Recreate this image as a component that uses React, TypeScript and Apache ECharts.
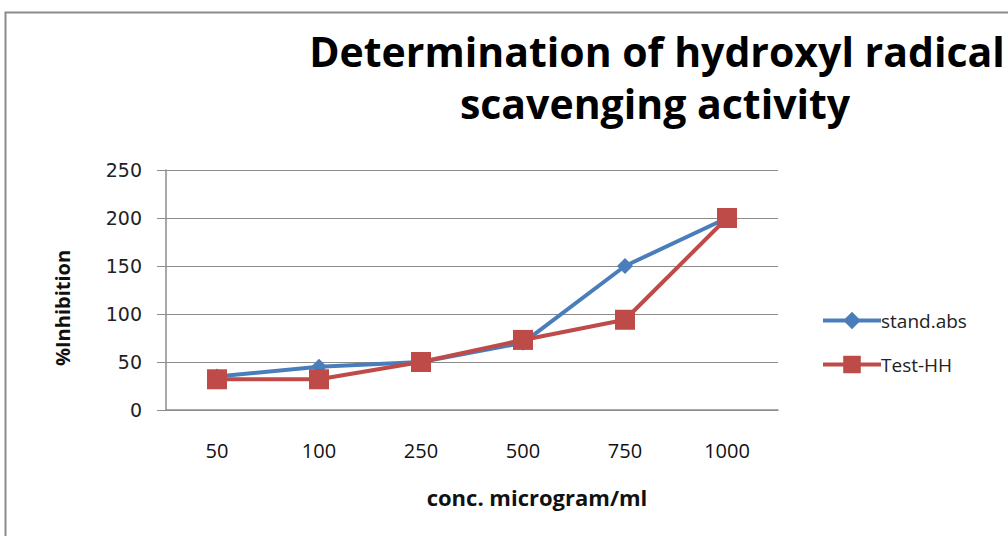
import React, { useEffect, useRef } from "react";
import * as echarts from "echarts";

const categories = ["50", "100", "250", "500", "750", "1000"];
const standAbs = [35, 45, 50, 70, 150, 200];
const testHH = [32, 32, 50, 73, 94, 200];
const yTicks = { min: 0, max: 250, interval: 50 };
const titleLines = ["Determination of hydroxyl radical", "scavenging activity"];
const xAxisName = "conc. microgram/ml";
const yAxisName = "%Inhibition";

const TFONT = "'Open Sans', 'Noto Sans', sans-serif";

export default function App() {
  const ref = useRef<HTMLDivElement>(null);
  useEffect(() => {
    document.body.style.margin = "0";
    const chart = echarts.init(ref.current!, null, { renderer: "svg" });
    chart.setOption({
      animation: false,
      backgroundColor: "#ffffff",
      graphic: [
        {
          type: "rect",
          shape: { x: 5.5, y: 12.5, width: 1100, height: 600 },
          style: { fill: "none", stroke: "#8c8c8c", lineWidth: 2 },
          silent: true,
        },
        {
          type: "text",
          x: 657,
          y: 51,
          style: {
            text: titleLines[0],
            font: "bold 41px " + TFONT,
            fill: "#000",
            align: "center",
            verticalAlign: "middle",
          },
        },
        {
          type: "text",
          x: 655,
          y: 103,
          style: {
            text: titleLines[1],
            font: "bold 41px " + TFONT,
            fill: "#000",
            align: "center",
            verticalAlign: "middle",
          },
        },
        {
          type: "text",
          x: 537,
          y: 497,
          style: {
            text: xAxisName,
            font: "bold 22px " + TFONT,
            fill: "#111",
            align: "center",
            verticalAlign: "middle",
          },
        },
        {
          type: "text",
          x: 62,
          y: 308,
          rotation: Math.PI / 2,
          style: {
            text: yAxisName,
            font: "bold 20px " + TFONT,
            fill: "#111",
            align: "center",
            verticalAlign: "middle",
          },
        },
      ],
      grid: { left: 166, right: 230, top: 170, bottom: 126, containLabel: false },
      legend: {
        orient: "vertical",
        left: 816,
        top: 306,
        itemWidth: 58,
        itemHeight: 22,
        itemGap: 25,
        lineStyle: { width: 4 },
        textStyle: { fontSize: 19, color: "#222", fontFamily: TFONT, padding: [0, 0, 0, -5] },
        data: ["stand.abs", "Test-HH"],
      },
      xAxis: {
        type: "category",
        data: categories,
        boundaryGap: true,
        axisLine: { lineStyle: { color: "#8c8c8c", width: 1.5 } },
        axisTick: { show: false },
        axisLabel: { fontSize: 20, color: "#111", margin: 30, fontFamily: TFONT },
      },
      yAxis: {
        type: "value",
        min: yTicks.min,
        max: yTicks.max,
        interval: yTicks.interval,
        axisLine: { show: true, lineStyle: { color: "#8c8c8c", width: 1.5 } },
        axisTick: { show: true, length: 9, lineStyle: { color: "#8c8c8c" } },
        axisLabel: { fontSize: 19, color: "#222", margin: 24, fontFamily: "'DejaVu Sans', sans-serif" },
        splitLine: { lineStyle: { color: "#8c8c8c", width: 1.2 } },
      },
      series: [
        {
          name: "stand.abs",
          type: "line",
          data: standAbs,
          symbol: "diamond",
          symbolSize: 16,
          color: "#4a7ebb",
          lineStyle: { width: 4, color: "#4a7ebb" },
          itemStyle: { color: "#4a7ebb" },
        },
        {
          name: "Test-HH",
          type: "line",
          data: testHH,
          symbol: "rect",
          symbolSize: 20,
          color: "#be4b48",
          lineStyle: { width: 4, color: "#be4b48" },
          itemStyle: { color: "#be4b48" },
        },
      ],
    });
    return () => chart.dispose();
  }, []);
  return <div ref={ref} style={{ width: 1008, height: 536 }} />;
}
